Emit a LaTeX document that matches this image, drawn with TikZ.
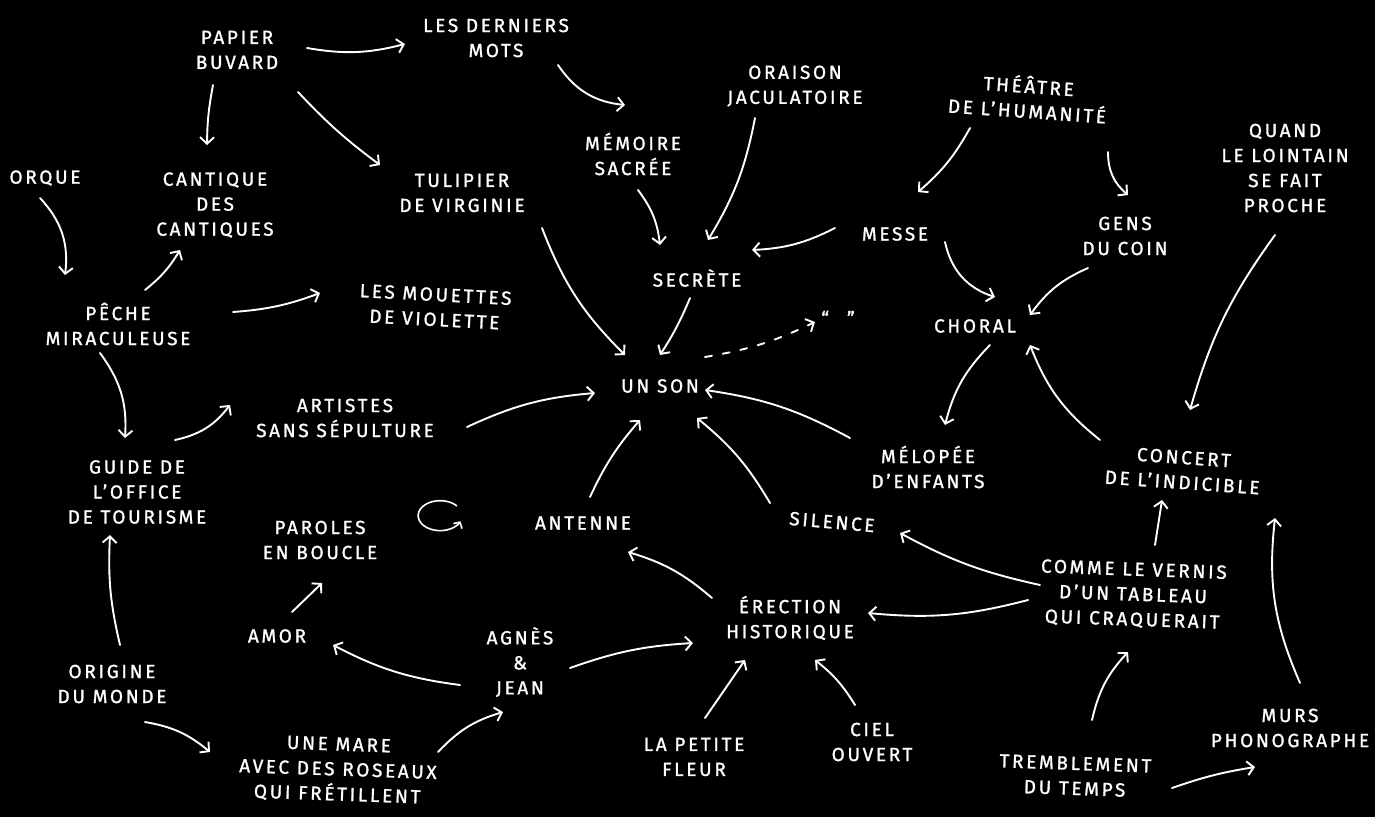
\documentclass[tikz,border=0pt]{standalone}
\usepackage{fontspec}
\usetikzlibrary{arrows.meta,calc}
\newfontfamily\hand[LetterSpace=14,FakeBold=1.2]{Fira Sans}
\tikzset{
  txt/.style={text=white, font=\hand\fontsize{19}{25}\selectfont, align=center, inner sep=0pt},
  arr/.style={draw=white, line width=1.9pt, line cap=round, -{Straight Barb[length=6.5pt,width=14pt,line width=1.9pt]}},
  sbl/.style={bend right=#1},
  sbr/.style={bend left=#1},
}
\begin{document}
\begin{tikzpicture}[x=1pt,y=-1pt]
\fill[black] (0,0) rectangle (1375,817);
\useasboundingbox (0,0) rectangle (1375,817);
% nodes
\node[txt] (papier) at (237,50) {PAPIER\\BUVARD};
\node[txt] (mots) at (496,38) {LES DERNIERS\\MOTS};
\node[txt] (orque) at (45,178) {ORQUE};
\node[txt] (cantique) at (215,205) {CANTIQUE\\DES\\CANTIQUES};
\node[txt] (tulipier) at (462,193) {TULIPIER\\DE VIRGINIE};
\node[txt] (memoire) at (633,154) {MÉMOIRE\\SACRÉE};
\node[txt] (oraison) at (795,86) {ORAISON\\JACULATOIRE};
\node[txt,rotate=-4] (theatre) at (1028,97) {THÉÂTRE\\DE L’HUMANITÉ};
\node[txt] (quand) at (1285,168) {QUAND\\LE LOINTAIN\\SE FAIT\\PROCHE};
\node[txt] (peche) at (118,324) {PÊCHE\\MIRACULEUSE};
\node[txt,rotate=-3] (mouettes) at (435,307) {LES MOUETTES\\DE VIOLETTE};
\node[txt] (messe) at (895,234) {MESSE};
\node[txt] (gens) at (1125,236) {GENS\\DU COIN};
\node[txt] (secrete) at (697,278) {SECRÈTE};
\node[txt] (quotes) at (838,318) {“\hspace{18pt}”};
\node[txt] (choral) at (975,326) {CHORAL};
\node[txt] (unson) at (660,386) {UN SON};
\node[txt] (artistes) at (345,418) {ARTISTES\\SANS SÉPULTURE};
\node[txt] (melopee) at (928,467) {MÉLOPÉE\\D’ENFANTS};
\node[txt,rotate=-4] (concert) at (1183,470) {CONCERT\\DE L’INDICIBLE};
\node[txt] (guide) at (137,492) {GUIDE DE\\L’OFFICE\\DE TOURISME};
\node[txt] (paroles) at (320,540) {PAROLES\\EN BOUCLE};
\coordinate (loop) at (440,517);
\node[txt] (antenne) at (583,523) {ANTENNE};
\node[txt,rotate=-5] (silence) at (832,522) {SILENCE};
\node[txt,rotate=-2] (vernis) at (1133,595) {COMME LE VERNIS\\D’UN TABLEAU\\QUI CRAQUERAIT};
\node[txt] (amor) at (277,636) {AMOR};
\node[txt] (agnes) at (520,662) {AGNÈS\\\&\\JEAN};
\node[txt] (erection) at (790,618) {ÉRECTION\\HISTORIQUE};
\node[txt] (origine) at (112,684) {ORIGINE\\DU MONDE};
\node[txt] (petite) at (694,757) {LA PETITE\\FLEUR};
\node[txt] (ciel) at (872,742) {CIEL\\OUVERT};
\node[txt,rotate=-2] (mare) at (338,770) {UNE MARE\\AVEC DES ROSEAUX\\QUI FRÉTILLENT};
\node[txt,rotate=-2] (tremblement) at (1075,776) {TREMBLEMENT\\DU TEMPS};
\node[txt] (murs) at (1290,728) {MURS\\PHONOGRAPHE};
% connectors
\draw[arr] ($(papier)+(70,-2)$) to[sbl=12] ($(mots)+(-91,6)$);
\draw[arr] ($(papier)+(-24,35)$) to[sbl=5] ($(cantique)+(-8,-60)$);
\draw[arr] ($(papier)+(61,42)$) to[sbl=5] ($(tulipier)+(-82,-28)$);
\draw[arr] ($(mots)+(62,27)$) to[sbl=25] ($(memoire)+(-8,-49)$);
\draw[arr] ($(orque)+(-5,20)$) to[sbr=25] ($(peche)+(-53,-49)$);
\draw[arr] ($(peche)+(27,-34)$) to[sbl=10] ($(cantique)+(-35,45)$);
\draw[arr] ($(peche)+(115,-12)$) to[sbl=8] ($(mouettes)+(-115,-14)$);
\draw[arr] ($(peche)+(-18,29)$) to[sbr=20] ($(guide)+(-12,-54)$);
\draw[arr] ($(tulipier)+(80,35)$) to[sbl=12] ($(unson)+(-35,-31)$);
\draw[arr] ($(memoire)+(5,36)$) to[sbr=15] ($(secrete)+(-37,-33)$);
\draw[arr] ($(oraison)+(-40,32)$) to[sbr=10] ($(secrete)+(11,-38)$);
\draw[arr] ($(messe)+(-60,-6)$) to[sbr=12] ($(secrete)+(55,-28)$);
\draw[arr] ($(theatre)+(-58,31)$) to[sbr=10] ($(messe)+(23,-42)$);
\draw[arr] ($(theatre)+(80,55)$) to[sbl=25] ($(gens)+(3,-41)$);
\draw[arr] ($(messe)+(50,8)$) to[sbl=30] ($(choral)+(20,-29)$);
\draw[arr] ($(gens)+(-37,32)$) to[sbl=15] ($(choral)+(55,-11)$);
\draw[arr] ($(secrete)+(-7,20)$) to[sbr=5] ($(unson)+(0,-31)$);
\draw[arr,dashed,dash pattern=on 7pt off 11pt] ($(unson)+(45,-29)$) to[sbl=8] ($(quotes)+(-23,4)$);
\draw[arr] ($(choral)+(15,19)$) to[sbl=15] ($(melopee)+(17,-42)$);
\draw[arr] ($(melopee)+(-78,-29)$) to[sbl=10] ($(unson)+(45,4)$);
\draw[arr] ($(concert)+(-83,-30)$) to[sbr=15] ($(choral)+(55,19)$);
\draw[arr] ($(quand)+(-10,67)$) to[sbl=10] ($(concert)+(7,-60)$);
\draw[arr] ($(artistes)+(122,9)$) to[sbr=10] ($(unson)+(-65,7)$);
\draw[arr] ($(guide)+(38,-52)$) to[sbl=20] ($(artistes)+(-115,-13)$);
\draw[arr] ($(silence)+(-62,-19)$) to[sbl=10] ($(unson)+(37,32)$);
\draw[arr] ($(antenne)+(7,-26)$) to[sbr=8] ($(unson)+(-20,34)$);
\draw[arr] ($(vernis)+(-93,-10)$) to[sbr=8] ($(silence)+(68,11)$);
\draw[arr] ($(vernis)+(-105,5)$) to[sbr=10] ($(erection)+(78,-5)$);
\draw[arr] ($(vernis)+(22,-50)$) to ($(concert)+(-21,30)$);
\draw[arr] ($(murs)+(10,-45)$) to[sbr=15] ($(concert)+(92,48)$);
\draw[arr] ($(tremblement)+(17,-56)$) to[sbr=15] ($(vernis)+(-5,57)$);
\draw[arr] ($(tremblement)+(97,12)$) to[sbr=5] ($(murs)+(-35,39)$);
\draw[arr] ($(erection)+(-78,-20)$) to[sbl=12] ($(antenne)+(45,29)$);
\draw[arr] ($(agnes)+(50,6)$) to[sbr=8] ($(erection)+(-97,25)$);
\draw[arr] ($(agnes)+(-60,23)$) to[sbr=10] ($(amor)+(56,9)$);
\draw[arr] ($(amor)+(15,-24)$) to ($(paroles)+(2,43)$);
\draw[arr] ($(petite)+(11,-39)$) to ($(erection)+(-45,42)$);
\draw[arr] ($(ciel)+(-17,-37)$) to[sbl=10] ($(erection)+(25,42)$);
\draw[arr] ($(mare)+(100,-18)$) to[sbr=15] ($(agnes)+(-17,50)$);
\draw[arr] ($(origine)+(33,38)$) to[sbr=15] ($(mare)+(-128,-18)$);
\draw[arr] ($(origine)+(8,-39)$) to[sbr=8] ($(guide)+(-27,43)$);
% loop symbol
\draw[draw=white, line width=1.6pt, -{Straight Barb[length=4.5pt,width=10pt,line width=1.6pt]}] ($(loop)+(17,-11)$) arc[start angle=-40, end angle=-338, x radius=22, y radius=15];
\end{tikzpicture}
\end{document}
